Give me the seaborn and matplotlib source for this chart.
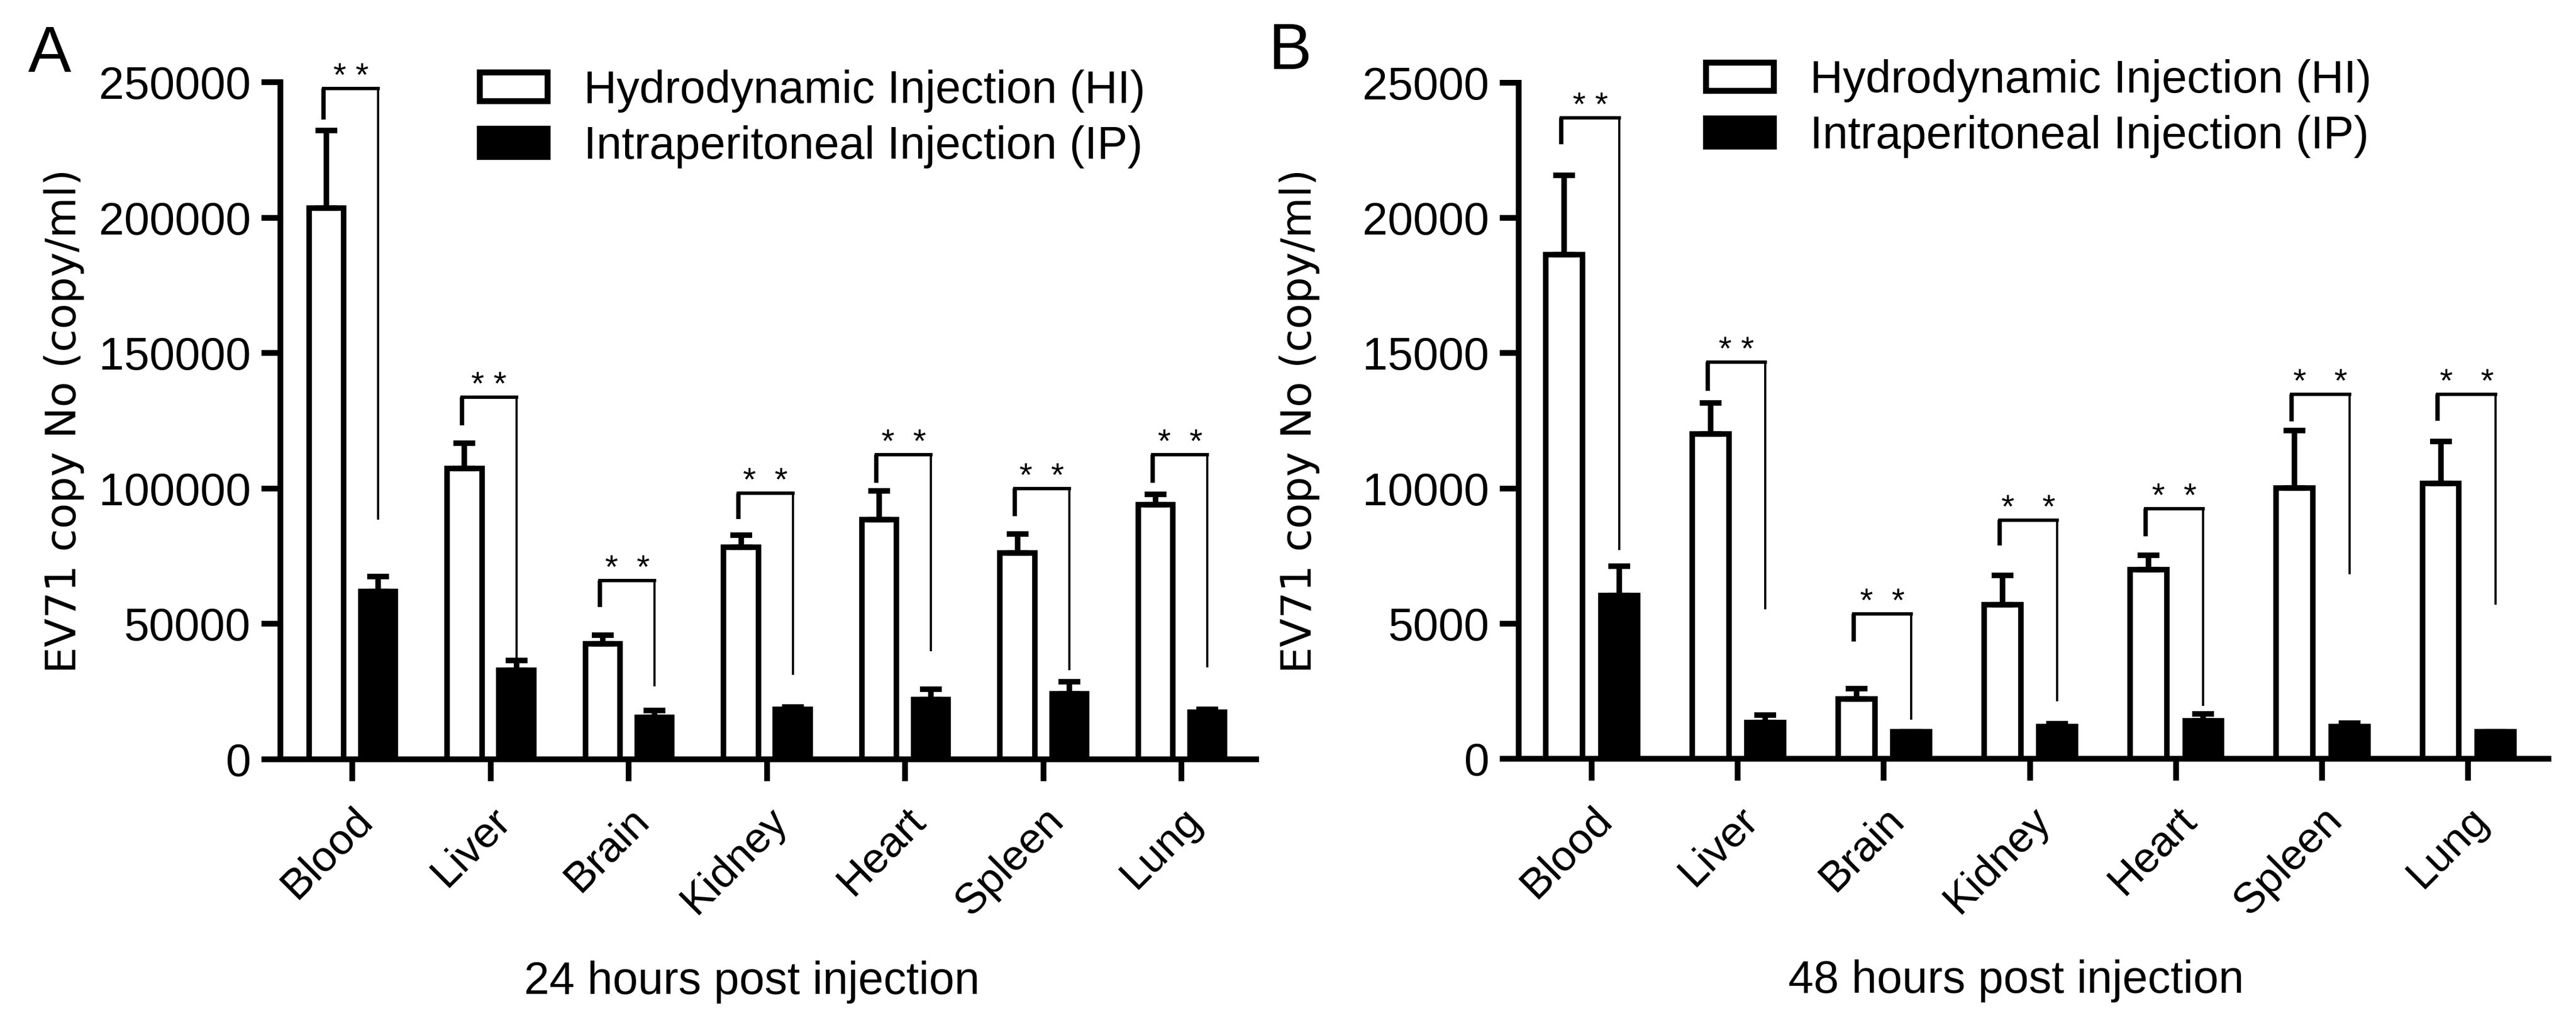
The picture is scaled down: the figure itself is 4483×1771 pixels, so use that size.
import pandas as pd
import seaborn as sns
import matplotlib.pyplot as plt
from matplotlib.patches import Patch
from matplotlib.transforms import ScaledTranslation
from matplotlib.ticker import StrMethodFormatter

organs = ["Blood", "Liver", "Brain", "Kidney", "Heart", "Spleen", "Lung"]
routes = ["HI", "IP"]
legend_labels = ["Hydrodynamic Injection (HI)", "Intraperitoneal Injection (IP)"]

# 24 h post injection (panel A)
hi_24 = [203500, 107400, 42600, 78300, 88600, 76200, 94000]
hi_24_err = [28650, 9300, 3250, 4550, 10500, 7000, 3800]
ip_24 = [62000, 32800, 15500, 18500, 22000, 24300, 17500]
ip_24_err = [5550, 3600, 2500, 800, 3800, 4300, 1000]
sig_top_24 = [247600, 133700, 66000, 98300, 112500, 99900, 112500]
sig_left_24 = [236200, 123400, 56200, 88700, 102100, 89800, 102100]
sig_right_24 = [88600, 35500, 26900, 31200, 39900, 32900, 34000]
stars_24 = ["* *", "* *", "*  *", "*  *", "*  *", "*  *", "*  *"]
yticks_24 = [0, 50000, 100000, 150000, 200000, 250000]

# 48 h post injection (panel B)
hi_48 = [18650, 12010, 2215, 5690, 6990, 10010, 10180]
hi_48_err = [2920, 1140, 375, 1100, 530, 2120, 1560]
ip_48 = [6030, 1335, 995, 1200, 1400, 1200, 995]
ip_48_err = [1100, 285, 0, 100, 260, 120, 0]
sig_top_48 = [23700, 14670, 5350, 8820, 9250, 13480, 13480]
sig_left_48 = [22720, 13600, 4340, 7890, 8230, 12470, 12500]
sig_right_48 = [7720, 5520, 1450, 2130, 1960, 6820, 5690]
stars_48 = ["* *", "* *", "*  *", "*   *", "*  *", "*   *", "*   *"]
yticks_48 = [0, 5000, 10000, 15000, 20000, 25000]

ARIAL = "Liberation Sans"
LW = 2.3

sns.set_style("ticks")
plt.rcParams["font.family"] = [ARIAL, "DejaVu Sans"]
plt.rcParams.update({
    "axes.linewidth": 2.4,
    "axes.edgecolor": "black",
    "axes.labelcolor": "black",
    "text.color": "black",
    "xtick.color": "black",
    "ytick.color": "black",
})

fig = plt.figure(figsize=(4483 / 300, 1771 / 300), dpi=300)
ax_a = fig.add_axes([0.10886, 0.25409, 0.37876, 0.66517])
ax_b = fig.add_axes([0.58956, 0.25466, 0.39973, 0.66403])


def draw_panel(ax, hi, hi_err, ip, ip_err, sig_top, sig_left, sig_right, stars,
               yticks, xlim, xlabel, ylabel_x):
    df = pd.DataFrame({
        "Organ": organs * 2,
        "Route": [routes[0]] * len(organs) + [routes[1]] * len(organs),
        "Copies": hi + ip,
    })
    sns.barplot(data=df, x="Organ", y="Copies", hue="Route", order=organs,
                hue_order=routes, palette={"HI": "white", "IP": "black"},
                edgecolor="black", linewidth=LW, width=0.75, gap=0.33,
                errorbar=None, legend=False, ax=ax, zorder=2)

    centers = []
    for cont, vals, errs in zip(ax.containers, [hi, ip], [hi_err, ip_err]):
        xs = [p.get_x() + p.get_width() / 2 for p in cont]
        centers.append(xs)
        ax.errorbar(xs, vals, yerr=[[0] * len(errs), errs], fmt="none",
                    ecolor="black", elinewidth=LW, capsize=4.5, capthick=LW,
                    zorder=3)

    # significance brackets
    for i in range(len(organs)):
        xl, xr = centers[0][i] - 0.02, centers[1][i]
        ax.plot([xl, xl], [sig_left[i], sig_top[i]], color="black", lw=1.8,
                solid_capstyle="butt", clip_on=False)
        ax.plot([xl, xr], [sig_top[i], sig_top[i]], color="black", lw=1.4,
                solid_capstyle="projecting", clip_on=False)
        ax.plot([xr, xr], [sig_top[i], sig_right[i]], color="black", lw=0.9,
                solid_capstyle="butt", clip_on=False)
        ax.annotate(stars[i], xy=((xl + xr) / 2, sig_top[i]), xytext=(0, 1),
                    textcoords="offset points", ha="center", va="baseline",
                    fontsize=14, family=ARIAL)

    ax.set_xlim(*xlim)
    ax.set_ylim(yticks[0], yticks[-1])
    ax.set_yticks(yticks)
    ax.yaxis.set_major_formatter(StrMethodFormatter("{x:.0f}"))
    ax.set_xticks(range(len(organs)))
    ax.set_xticklabels(organs, rotation=45, ha="right", va="top",
                       rotation_mode="anchor")
    for lbl in ax.get_xticklabels():
        lbl.set_transform(lbl.get_transform()
                          + ScaledTranslation(3 / 72, 0, fig.dpi_scale_trans))
    ax.tick_params(axis="y", length=8, width=2.4, pad=4.3, labelsize=19)
    ax.tick_params(axis="x", length=9, width=2.4, pad=8, labelsize=18)

    ax.set_ylabel("EV71 copy No (copy/ml)", family="DejaVu Sans", fontsize=17.5)
    ax.yaxis.set_label_coords(ylabel_x, 0.5)
    ax.set_xlabel(xlabel, fontsize=19, family=ARIAL)
    ax.xaxis.set_label_coords(0.483, -0.297)
    sns.despine(ax=ax)


draw_panel(ax_a, hi_24, hi_24_err, ip_24, ip_24_err, sig_top_24, sig_left_24,
           sig_right_24, stars_24, yticks_24, (-0.52, 6.54),
           "24 hours post injection", -0.2008)
draw_panel(ax_b, hi_48, hi_48_err, ip_48, ip_48_err, sig_top_48, sig_left_48,
           sig_right_48, stars_48, yticks_48, (-0.50, 6.55),
           "48 hours post injection", -0.1931)

handles = [Patch(facecolor="white", edgecolor="black", linewidth=2.5),
           Patch(facecolor="black", edgecolor="black", linewidth=2.5)]
for anchor in [(0.1863, 0.9317), (0.6623, 0.9418)]:
    fig.legend(handles, legend_labels, loc="upper left", bbox_to_anchor=anchor,
               bbox_transform=fig.transFigure, frameon=False, fontsize=19,
               borderpad=0, borderaxespad=0, handlelength=1.49,
               handleheight=0.58, handletextpad=0.8, labelspacing=0.28)

fig.text(0.0109, 0.9294, "A", fontsize=27, family=ARIAL, va="baseline")
fig.text(0.4925, 0.9322, "B", fontsize=27, family=ARIAL, va="baseline")

fig.savefig("out.png", dpi=300)
